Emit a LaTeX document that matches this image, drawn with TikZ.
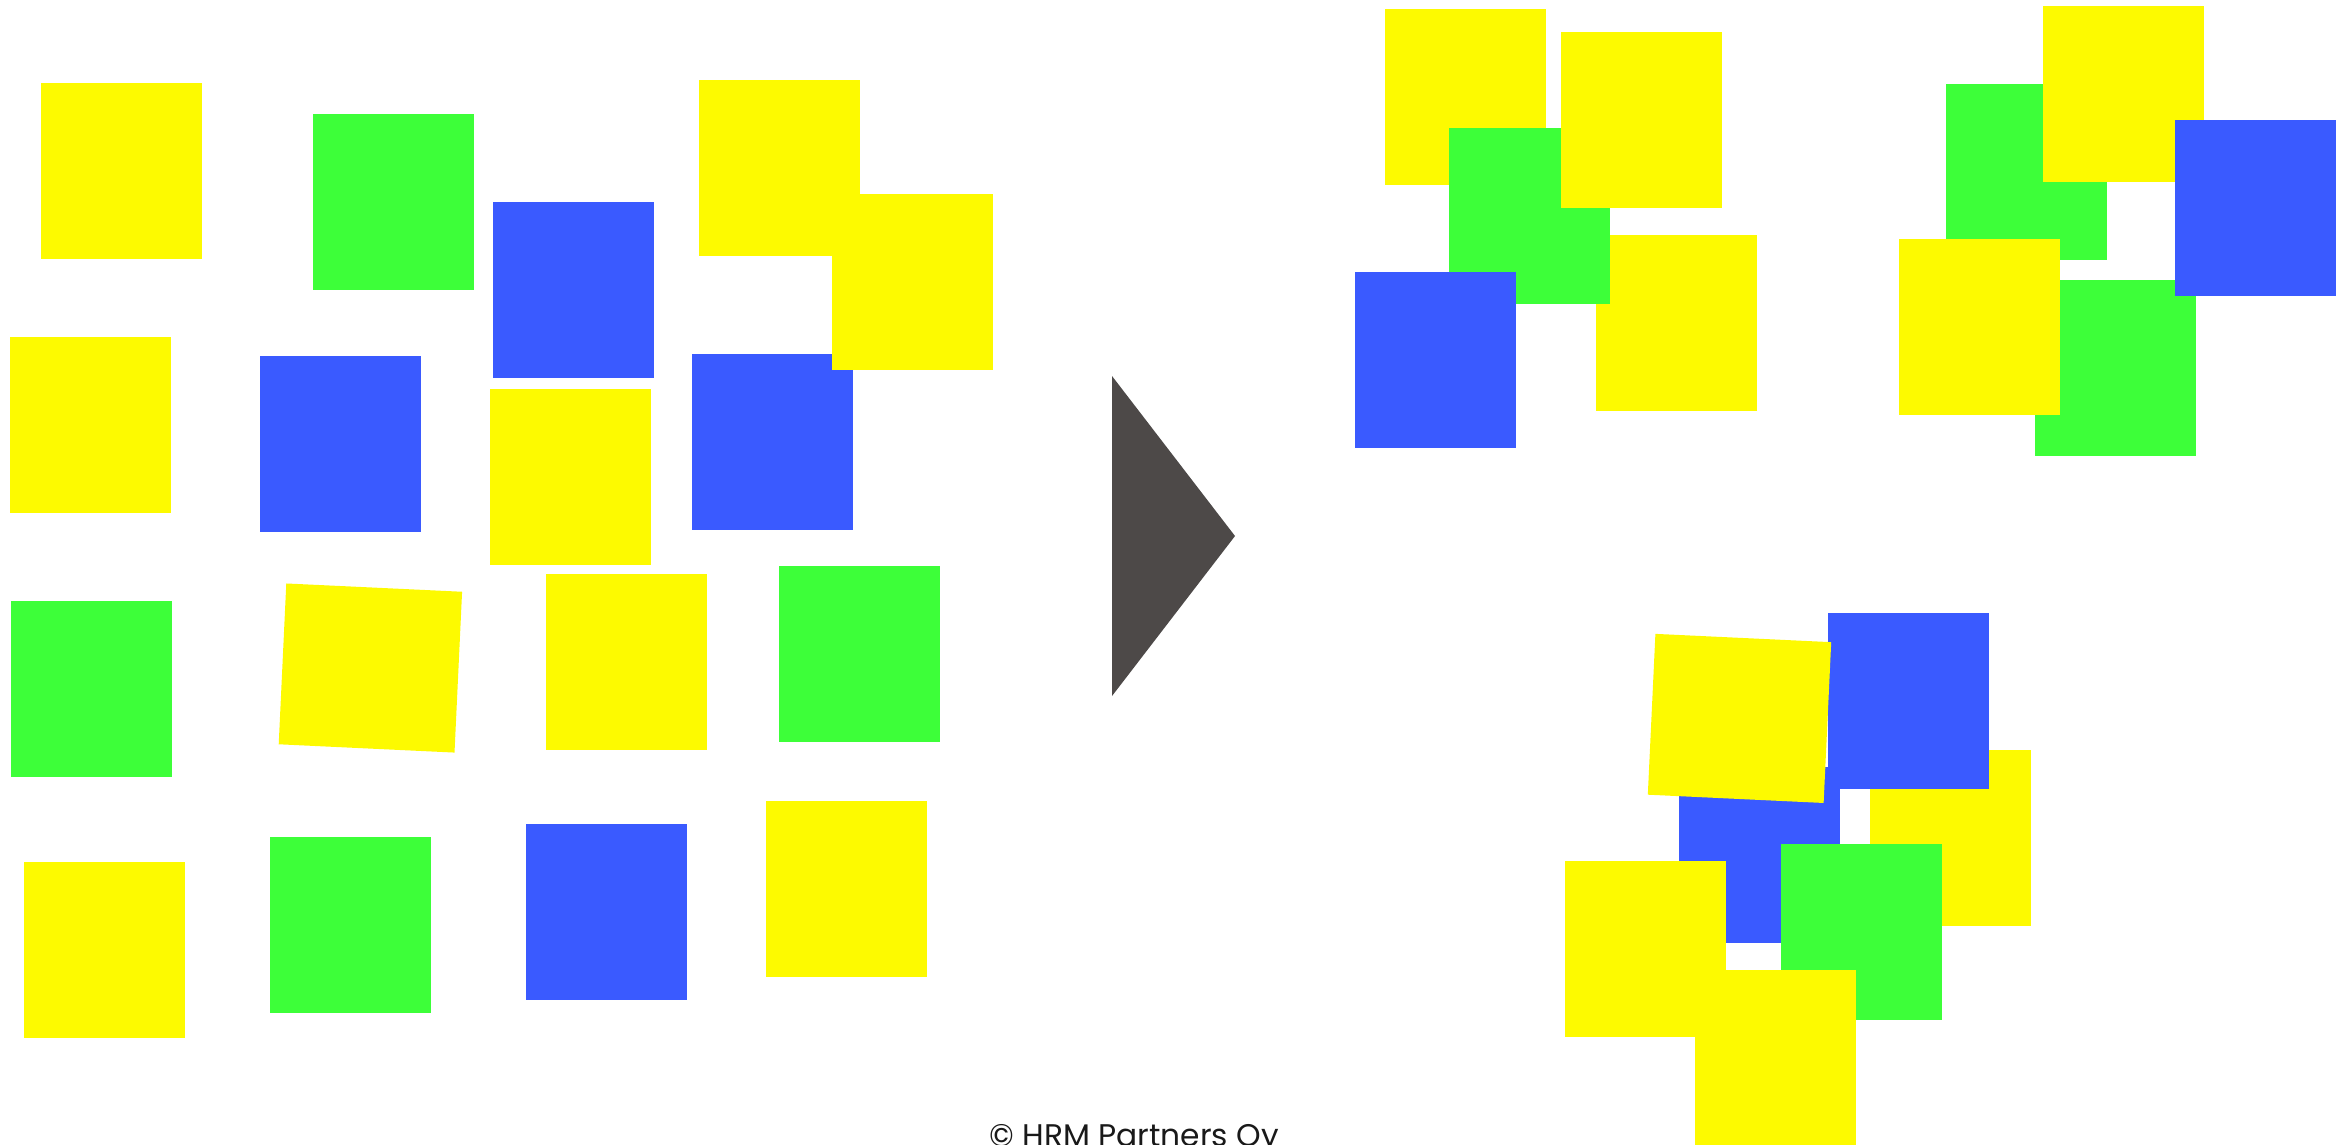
\documentclass[tikz,border=0pt]{standalone}
\usepackage{fontspec}
\usepackage{xcolor}
\usepackage{tikz}
\newfontfamily\gothicfont{Poppins}

\definecolor{noteyellow}{RGB}{253,250,0}
\definecolor{notegreen}{RGB}{61,255,57}
\definecolor{noteblue}{RGB}{58,90,255}
\definecolor{arrowgray}{RGB}{77,73,72}

\tikzset{
  ynote/.style={fill=noteyellow},
  gnote/.style={fill=notegreen},
  bnote/.style={fill=noteblue}
}

\begin{document}
\begin{tikzpicture}[x=0.1mm,y=-0.1mm]

\useasboundingbox (0,0) rectangle (2351,1144);
\clip (0,0) rectangle (2351,1144);

% =========================================================
% Before: scattered notes
% =========================================================
% row 1
\fill[ynote] (41,83) rectangle ++(161,176);
\fill[gnote] (313,114) rectangle ++(161,176);
\fill[bnote] (493,202) rectangle ++(161,176);
\fill[ynote] (699,80) rectangle ++(161,176);
\fill[bnote] (692,354) rectangle ++(161,176);
\fill[ynote] (832,194) rectangle ++(161,176);

% row 2
\fill[ynote] (10,337) rectangle ++(161,176);
\fill[bnote] (260,356) rectangle ++(161,176);
\fill[ynote] (490,389) rectangle ++(161,176);

% row 3
\fill[gnote] (11,601) rectangle ++(161,176);
\fill[ynote, rotate around={-2.7:(370.4,668)}] (282.4,587.5) rectangle (458.4,748.5);
\fill[ynote] (546,574) rectangle ++(161,176);
\fill[gnote] (779,566) rectangle ++(161,176);

% row 4
\fill[ynote] (24,862) rectangle ++(161,176);
\fill[gnote] (270,837) rectangle ++(161,176);
\fill[bnote] (526,824) rectangle ++(161,176);
\fill[ynote] (766,801) rectangle ++(161,176);

% =========================================================
% Arrow
% =========================================================
\fill[arrowgray] (1112,376) -- (1235,536) -- (1112,696) -- cycle;

% =========================================================
% After: grouped notes
% =========================================================
% group 1
\fill[ynote] (1385,9) rectangle ++(161,176);
\fill[ynote] (1596,235) rectangle ++(161,176);
\fill[gnote] (1449,128) rectangle ++(161,176);
\fill[ynote] (1561,32) rectangle ++(161,176);
\fill[bnote] (1355,272) rectangle ++(161,176);

% group 2
\fill[gnote] (1946,84) rectangle ++(161,176);
\fill[ynote] (2043,6) rectangle ++(161,176);
\fill[gnote] (2035,280) rectangle ++(161,176);
\fill[bnote] (2175,120) rectangle ++(161,176);
\fill[ynote] (1899,239) rectangle ++(161,176);

% group 3
\fill[ynote] (1870,750) rectangle ++(161,176);
\fill[bnote] (1828,613) rectangle ++(161,176);
\fill[bnote] (1679,767) rectangle ++(161,176);
\fill[ynote, rotate around={-2.7:(1739.5,718.4)}] (1651.5,637.9) rectangle (1827.5,798.9);
\fill[gnote] (1781,844) rectangle ++(161,176);
\fill[ynote] (1565,861) rectangle ++(161,176);
\fill[ynote] (1695,970) rectangle ++(161,176);

% footer
\node[font=\gothicfont\fontsize{8.9}{10}\selectfont, text=black!90, anchor=base, inner sep=0pt]
  (copyright) at (1134,1146) {© HRM Partners Oy};

\end{tikzpicture}
\end{document}
